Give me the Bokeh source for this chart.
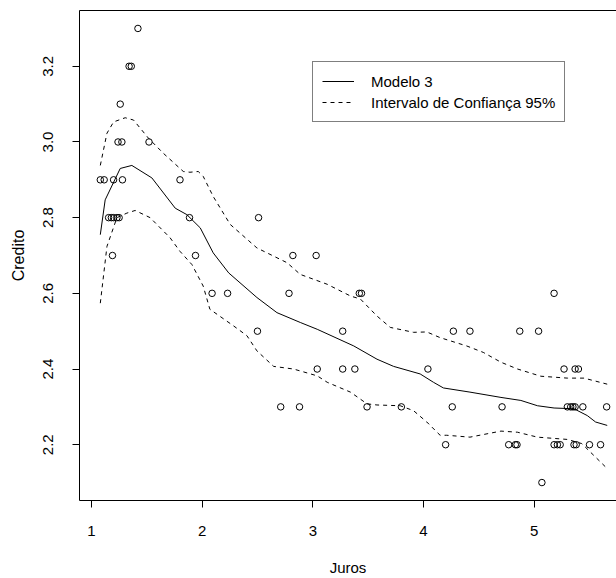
from bokeh.plotting import figure
from bokeh.models import LinearAxis, FixedTicker, Legend, LegendItem, Range1d, PrintfTickFormatter
from bokeh.embed import file_html
from bokeh.resources import INLINE

# ---- data ----
juros = [1.42,
         1.34, 1.36,
         1.26,
         1.24, 1.275, 1.52,
         1.08, 1.115, 1.20, 1.28, 1.80,
         1.155, 1.18, 1.20, 1.23, 1.25, 1.886, 2.51,
         1.19, 1.94, 2.82, 3.03,
         2.09, 2.23, 2.785, 3.42, 3.44, 5.18,
         2.50, 3.27, 4.27, 4.42, 4.87, 5.04,
         3.04, 3.27, 3.38, 4.04, 5.27, 5.37, 5.40,
         2.71, 2.88, 3.49, 3.80, 4.26, 4.71, 5.30, 5.33, 5.35, 5.37, 5.44, 5.655,
         4.20, 4.77, 4.83, 4.845, 5.18, 5.21, 5.235, 5.36, 5.38, 5.50, 5.60,
         5.07]
credito = [3.3,
           3.2, 3.2,
           3.1,
           3.0, 3.0, 3.0,
           2.9, 2.9, 2.9, 2.9, 2.9,
           2.8, 2.8, 2.8, 2.8, 2.8, 2.8, 2.8,
           2.7, 2.7, 2.7, 2.7,
           2.6, 2.6, 2.6, 2.6, 2.6, 2.6,
           2.5, 2.5, 2.5, 2.5, 2.5, 2.5,
           2.4, 2.4, 2.4, 2.4, 2.4, 2.4, 2.4,
           2.3, 2.3, 2.3, 2.3, 2.3, 2.3, 2.3, 2.3, 2.3, 2.3, 2.3, 2.3,
           2.2, 2.2, 2.2, 2.2, 2.2, 2.2, 2.2, 2.2, 2.2, 2.2, 2.2,
           2.1]

modelo_x = [1.08, 1.124, 1.26, 1.365, 1.546, 1.757, 1.862, 1.983, 2.10, 2.24, 2.495,
            2.676, 2.887, 3.04, 3.37, 3.58, 3.73, 3.97, 4.09, 4.18, 4.42, 4.70,
            4.88, 5.03, 5.18, 5.36, 5.48, 5.555, 5.66]
modelo_y = [2.755, 2.847, 2.93, 2.938, 2.905, 2.825, 2.808, 2.773, 2.707, 2.654, 2.589,
            2.549, 2.523, 2.505, 2.461, 2.426, 2.407, 2.387, 2.365, 2.35, 2.339, 2.325,
            2.317, 2.303, 2.297, 2.295, 2.277, 2.26, 2.251]

sup_x = [1.08, 1.14, 1.20, 1.305, 1.38, 1.515, 1.65, 1.83, 1.89, 1.965, 2.01, 2.10,
         2.254, 2.495, 2.767, 2.887, 3.13, 3.34, 3.43, 3.58, 3.70, 3.91, 4.03, 4.15,
         4.39, 4.54, 4.70, 4.85, 5.06, 5.30, 5.45, 5.66]
sup_y = [2.938, 3.023, 3.053, 3.064, 3.058, 3.01, 2.97, 2.922, 2.92, 2.922, 2.909, 2.856,
         2.782, 2.72, 2.681, 2.65, 2.624, 2.593, 2.585, 2.54, 2.51, 2.497, 2.498, 2.483,
         2.461, 2.444, 2.418, 2.40, 2.381, 2.376, 2.376, 2.36]

inf_x = [1.08, 1.14, 1.23, 1.32, 1.395, 1.53, 1.71, 1.80, 1.908, 2.01, 2.07, 2.284,
         2.405, 2.495, 2.646, 2.826, 3.04, 3.13, 3.34, 3.49, 3.58, 3.79, 3.91, 4.03,
         4.15, 4.21, 4.42, 4.70, 4.85, 5.03, 5.30, 5.43, 5.51, 5.66]
inf_y = [2.574, 2.724, 2.80, 2.812, 2.819, 2.80, 2.747, 2.711, 2.676, 2.619, 2.558, 2.514,
         2.488, 2.448, 2.407, 2.40, 2.382, 2.365, 2.339, 2.308, 2.305, 2.303, 2.29, 2.26,
         2.225, 2.225, 2.22, 2.236, 2.233, 2.22, 2.214, 2.203, 2.18, 2.137]

x_ticks = [1, 2, 3, 4, 5]
y_ticks = [2.2, 2.4, 2.6, 2.8, 3.0, 3.2]

FONT = "Liberation Sans"

p = figure(width=616, height=578, output_backend="svg", toolbar_location=None,
           x_range=Range1d(0.892, 5.744), y_range=Range1d(2.0526, 3.3474),
           min_border_left=79, min_border_right=0, min_border_top=10, min_border_bottom=76,
           x_axis_label="Juros", y_axis_label="Credito")
p.grid.visible = False
p.outline_line_color = None
p.background_fill_color = "white"
p.border_fill_color = "white"

for ax in (p.xaxis[0], p.yaxis[0]):
    ax.axis_line_color = "black"
    ax.major_tick_line_color = "black"
    ax.major_tick_out = 7
    ax.major_tick_in = 0
    ax.minor_tick_line_color = None
    ax.major_label_text_font = FONT
    ax.major_label_text_font_size = "15px"
    ax.major_label_text_color = "black"
    ax.axis_label_text_font = FONT
    ax.axis_label_text_font_size = "15px"
    ax.axis_label_text_font_style = "normal"
    ax.axis_label_text_color = "black"

p.xaxis[0].ticker = FixedTicker(ticks=x_ticks)
p.yaxis[0].ticker = FixedTicker(ticks=y_ticks)
p.yaxis[0].formatter = PrintfTickFormatter(format="%.1f")
p.yaxis[0].major_label_orientation = "vertical"
p.xaxis[0].major_label_standoff = 18
p.xaxis[0].axis_label_standoff = 20
p.yaxis[0].major_label_standoff = 19
p.yaxis[0].axis_label_standoff = 14
p.yaxis[0].axis_label_text_font_size = "16px"

top = LinearAxis(ticker=FixedTicker(ticks=[]), major_label_text_font_size="0px",
                 major_tick_line_color=None, minor_tick_line_color=None,
                 axis_line_color="black")
p.add_layout(top, "above")

p.scatter(juros, credito, size=6.5, fill_color=None, line_color="black", line_width=1)
r_mod = p.line(modelo_x, modelo_y, line_color="black", line_width=1)
r_sup = p.line(sup_x, sup_y, line_color="black", line_width=1, line_dash="4 4")
p.line(inf_x, inf_y, line_color="black", line_width=1, line_dash="4 4")

legend = Legend(items=[LegendItem(label="Modelo 3", renderers=[r_mod]),
                       LegendItem(label="Intervalo de Confiança 95%", renderers=[r_sup])],
                location=(233, 378), padding=9, spacing=1, margin=0,
                label_height=20, glyph_height=20, glyph_width=32, label_standoff=17,
                label_text_font=FONT, label_text_font_size="15px", label_text_color="black",
                border_line_color="black", border_line_width=1,
                background_fill_color="white", background_fill_alpha=1)
p.add_layout(legend)

open("out.html", "w").write(file_html(p, INLINE))
